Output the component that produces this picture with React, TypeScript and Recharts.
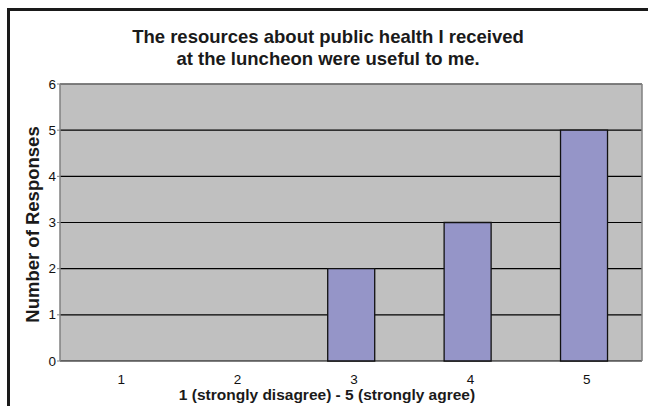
import React from 'react';
import { BarChart, Bar, XAxis, YAxis, CartesianGrid, ReferenceLine } from 'recharts';

// survey question: usefulness of the public health resources, rated 1-5
const ratings = ['1', '2', '3', '4', '5'];
const responses = [0, 0, 2, 3, 5];
const yTicks = [0, 1, 2, 3, 4, 5, 6];
const edgeTicks = [0, 1, 2, 3, 4, 5];

const titleLines = [
    'The resources about public health I received',
    'at the luncheon were useful to me.',
];

const data = ratings.map((rating, i) => ({ rating, responses: responses[i] }));

const FONT = '"Liberation Sans", Arial, Helvetica, sans-serif';
const AXIS_GRAY = '#808080';

const YTick = ({ x, y, payload }: any) => (
    <text x={x} y={y} dy={4.5} textAnchor="end" fontSize={13.5} fill="#111" fontFamily={FONT}>
        {payload.value}
    </text>
);

const XTick = ({ x, y, payload }: any) => (
    <text x={x + 3} y={y} dy={11} textAnchor="middle" fontSize={13.5} fill="#111" fontFamily={FONT}>
        {payload.value}
    </text>
);

export default function App() {
    return (
        <div style={{ position: 'absolute', left: 0, top: 0, width: 648, height: 406, overflow: 'hidden', background: '#fff', fontFamily: FONT }}>
            {/* frame around the chart */}
            <div style={{ position: 'absolute', left: 7, top: 8, width: 641, height: 398, borderTop: '3px solid #1a1a1a', borderLeft: '3px solid #1a1a1a', boxSizing: 'border-box' }} />

            <div style={{ position: 'absolute', left: 8, top: 26, width: 640, textAlign: 'center', fontSize: 18.5, lineHeight: '22px', fontWeight: 'bold', color: '#1a1a1a' }}>
                {titleLines.map((line) => (
                    <div key={line}>{line}</div>
                ))}
            </div>

            <div style={{ position: 'absolute', left: 0, top: 0 }}>
                <BarChart
                    width={648}
                    height={406}
                    data={data}
                    margin={{ top: 84, right: 0, bottom: 0, left: 0 }}
                    barCategoryGap="30%"
                    style={{ fontFamily: FONT }}
                >
                    <CartesianGrid vertical={false} stroke="#000" strokeWidth={1.2} fill="#C0C0C0" fillOpacity={1} />
                    {/* boundary ticks between the categories */}
                    <XAxis
                        xAxisId="edges"
                        type="number"
                        domain={[0, 5]}
                        ticks={edgeTicks}
                        height={0}
                        allowDataOverflow
                        axisLine={{ stroke: AXIS_GRAY, strokeWidth: 1.5 }}
                        tickLine={{ stroke: AXIS_GRAY }}
                        tickSize={4}
                        tickFormatter={() => ''}
                    />
                    <XAxis
                        dataKey="rating"
                        height={45}
                        axisLine={false}
                        tickLine={false}
                        tickMargin={6}
                        tick={<XTick />}
                        label={{
                            value: '1 (strongly disagree) - 5 (strongly agree)',
                            position: 'insideBottom',
                            offset: 6,
                            dx: -24,
                            fontSize: 15.5,
                            fontWeight: 'bold',
                            fill: '#1a1a1a',
                        }}
                    />
                    <YAxis
                        width={60}
                        domain={[0, 6]}
                        ticks={yTicks}
                        interval={0}
                        axisLine={{ stroke: AXIS_GRAY, strokeWidth: 1.5 }}
                        tickLine={{ stroke: AXIS_GRAY }}
                        tickSize={3}
                        tickMargin={1}
                        tick={<YTick />}
                        label={{
                            value: 'Number of Responses',
                            angle: -90,
                            position: 'center',
                            dx: 2,
                            dy: 2,
                            fontSize: 18.5,
                            fontWeight: 'bold',
                            fill: '#1a1a1a',
                        }}
                    />
                    <YAxis
                        yAxisId="right"
                        orientation="right"
                        width={6}
                        domain={[0, 6]}
                        tick={false}
                        tickLine={false}
                        axisLine={{ stroke: AXIS_GRAY, strokeWidth: 1.5 }}
                    />
                    <ReferenceLine y={6} stroke={AXIS_GRAY} strokeWidth={1.5} />
                    <Bar dataKey="responses" fill="#9595C8" stroke="#111" strokeWidth={1.3} isAnimationActive={false} />
                </BarChart>
            </div>
        </div>
    );
}
